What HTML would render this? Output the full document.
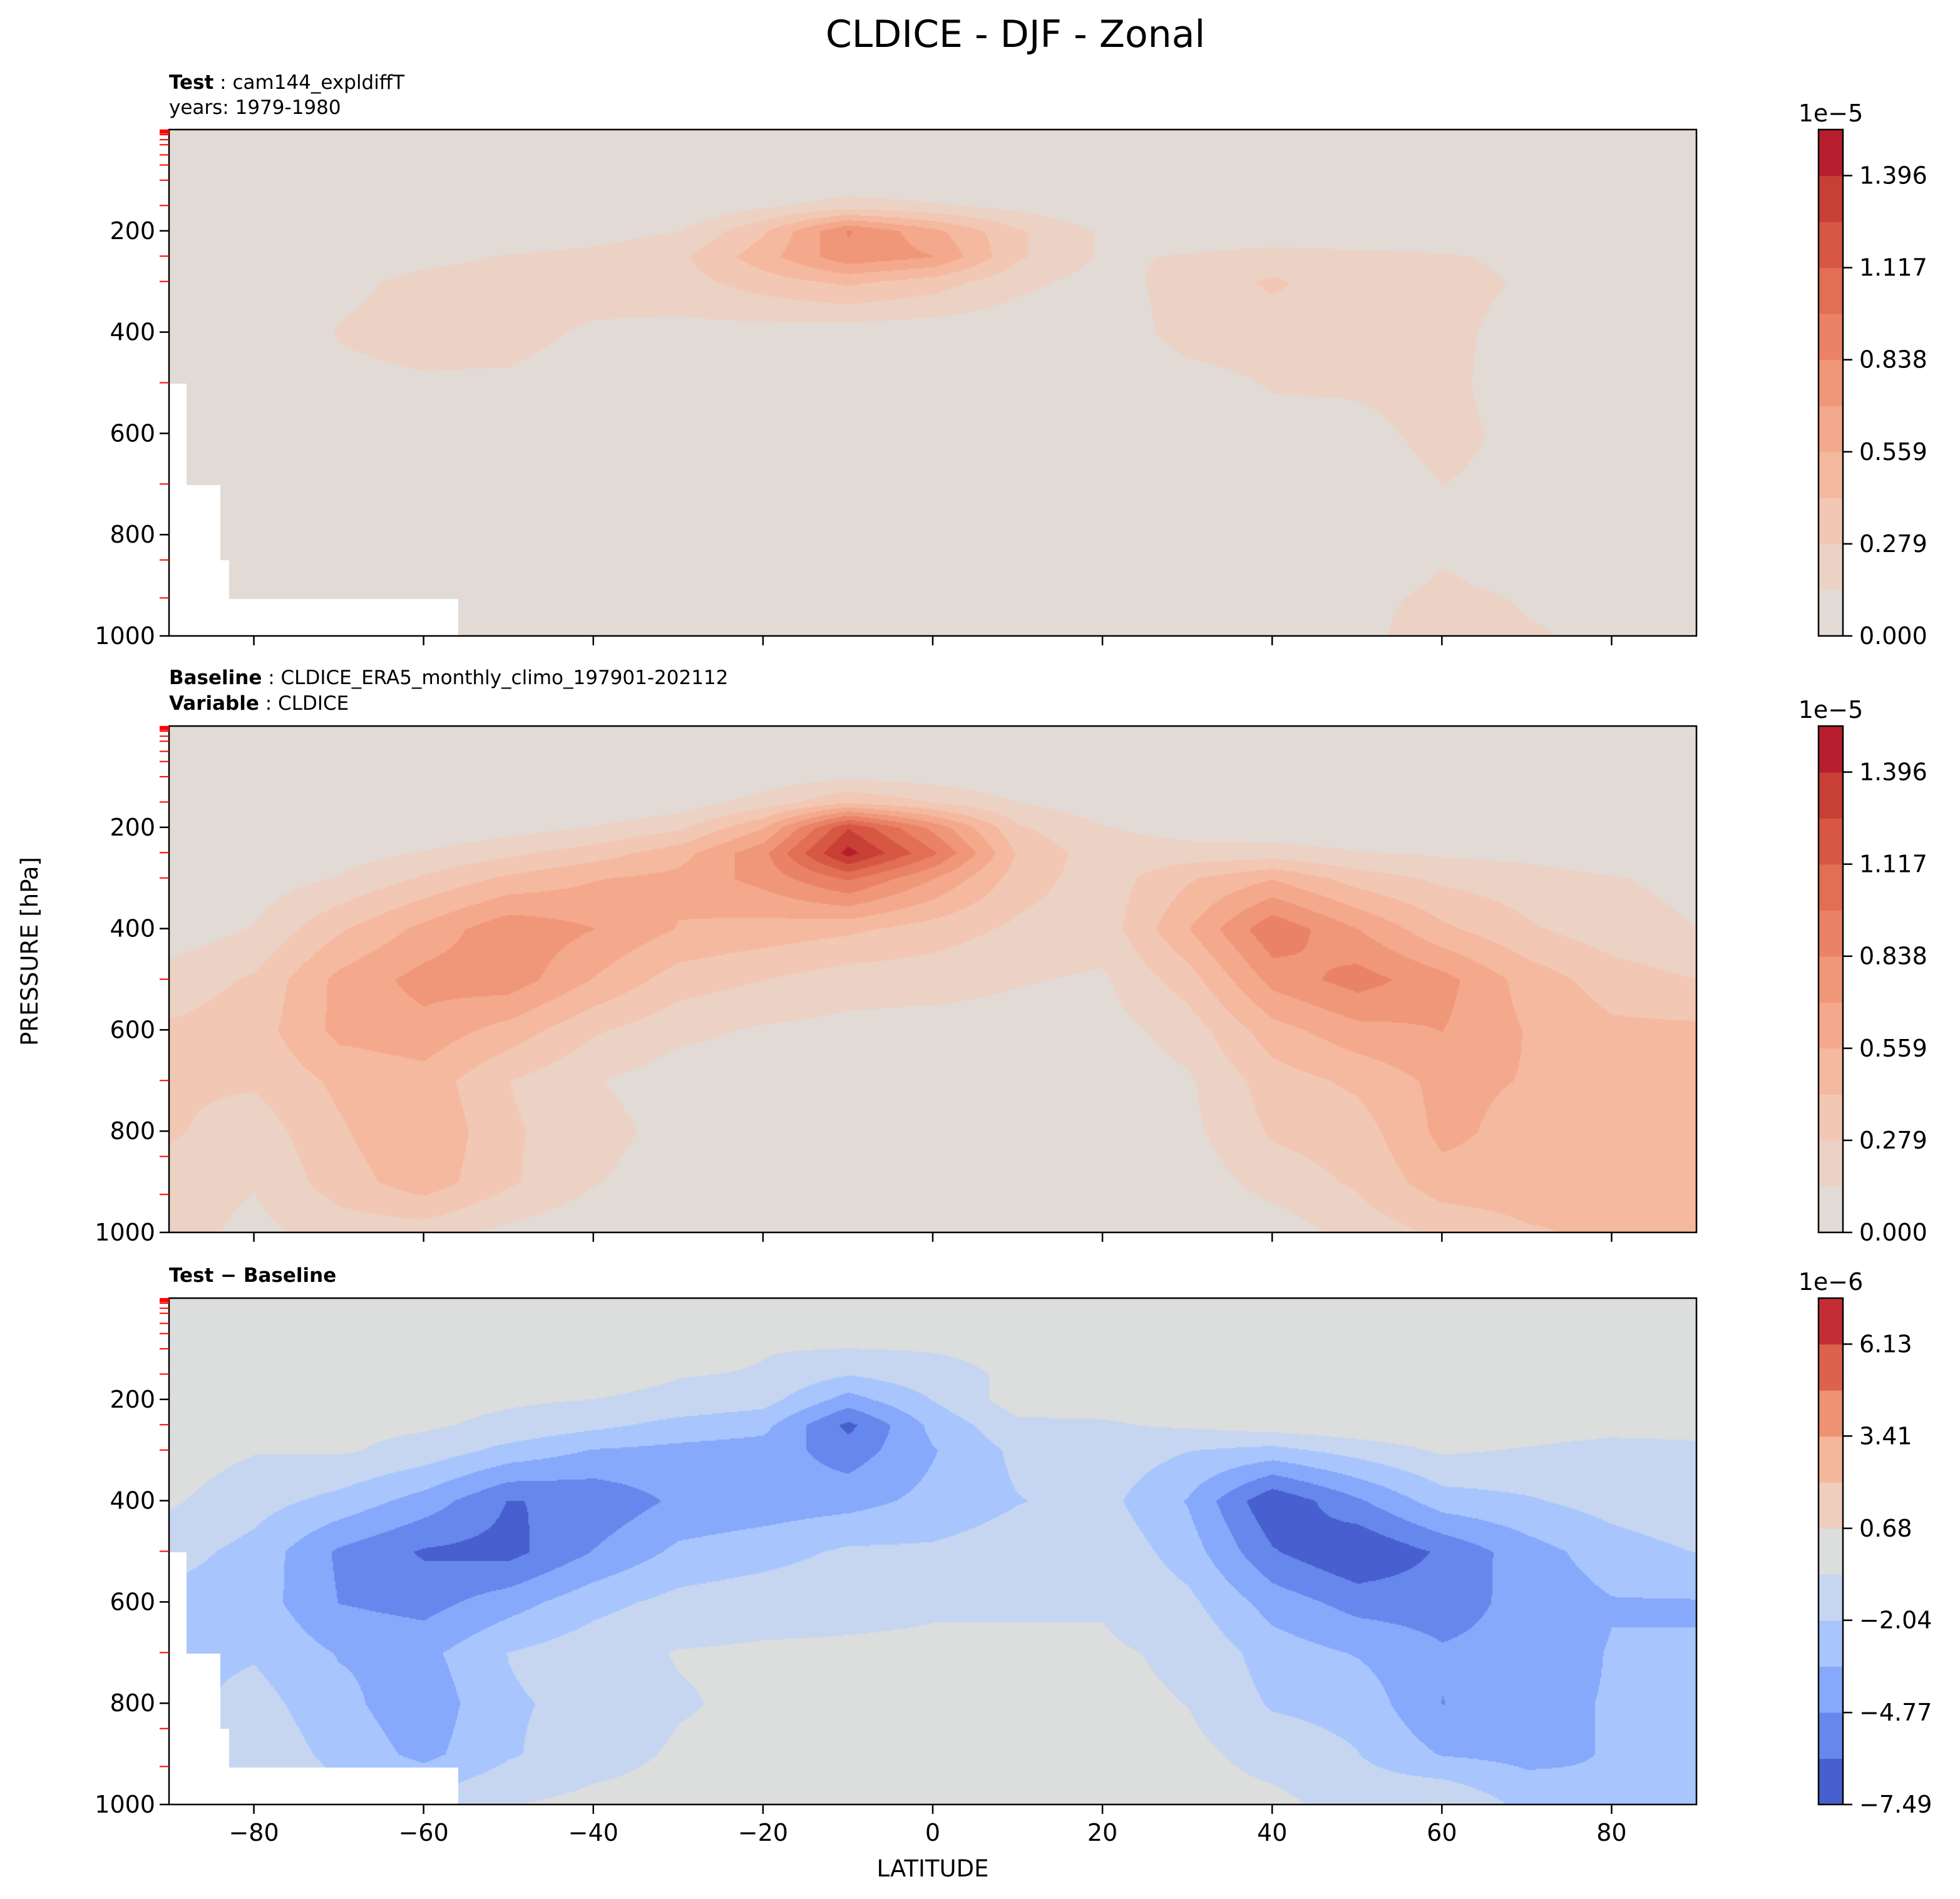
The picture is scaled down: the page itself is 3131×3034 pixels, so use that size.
<!DOCTYPE html>
<html><head><meta charset="utf-8">
<style>
body{margin:0;background:#fff;}
#root{position:relative;width:3131px;height:3034px;background:#fff;font-family:"DejaVu Sans","Liberation Sans",sans-serif;color:#000;overflow:hidden;}
.t{position:absolute;white-space:nowrap;}
canvas{position:absolute;}
svg{position:absolute;left:0;top:0;}
</style></head>
<body>
<div id="root">
<div class="t" style="left:0;width:3244px;text-align:center;top:20px;font-size:60px;line-height:70px;">CLDICE - DJF - Zonal</div>
<div class="t" style="left:270px;top:112px;font-size:31px;line-height:40px;"><b>Test</b> : cam144_expldiffT<br>years: 1979-1980</div>
<div class="t" style="left:270px;top:1063px;font-size:31px;line-height:41px;"><b>Baseline</b> : CLDICE_ERA5_monthly_climo_197901-202112<br><b>Variable</b> : CLDICE</div>
<div class="t" style="left:270px;top:2018px;font-size:31px;line-height:40px;"><b>Test − Baseline</b></div>
<div class="t" style="left:48px;top:1520px;font-size:37px;line-height:40px;transform:translate(-50%,-50%) rotate(-90deg);">PRESSURE [hPa]</div>
<div class="t" style="left:1490px;top:2986px;font-size:37px;line-height:40px;transform:translate(-50%,-50%);">LATITUDE</div>
<canvas id="c0"></canvas>
<canvas id="c1"></canvas>
<canvas id="c2"></canvas>
<svg id="ov" width="3131" height="3034"></svg>
</div>
<script>
const lats=[-90,-80,-70,-60,-50,-40,-30,-20,-10,0,10,20,30,40,50,60,70,80,90];
const levels=[0,100,150,200,250,300,400,500,600,700,800,900,1000];
const baseField=[
[0,0,0,0,0,0,0,0,0,0,0,0,0,0,0,0,0,0,0],
[0,0,0,0,0,0,0,0.06,0.12,0.08,0.03,0,0,0,0,0,0,0,0],
[0,0,0,0,0,0,0.06,0.2,0.4,0.28,0.14,0.05,0,0,0,0,0,0,0],
[0,0,0,0.03,0.08,0.15,0.25,0.55,1.25,0.8,0.3,0.15,0.08,0.06,0.04,0.02,0,0,0],
[0,0.03,0.08,0.15,0.25,0.35,0.5,0.8,1.45,1.0,0.4,0.2,0.2,0.2,0.15,0.12,0.1,0.05,0.02],
[0,0.06,0.15,0.3,0.45,0.55,0.6,0.75,1.0,0.7,0.35,0.2,0.4,0.55,0.35,0.25,0.2,0.15,0.1],
[0.05,0.15,0.4,0.6,0.8,0.7,0.55,0.5,0.45,0.35,0.25,0.2,0.55,0.95,0.7,0.45,0.3,0.2,0.14],
[0.2,0.3,0.6,0.75,0.78,0.55,0.35,0.28,0.2,0.2,0.15,0.12,0.35,0.75,0.9,0.75,0.5,0.35,0.28],
[0.3,0.35,0.6,0.65,0.5,0.3,0.18,0.12,0.1,0.08,0.08,0.08,0.2,0.5,0.65,0.7,0.55,0.45,0.45],
[0.3,0.3,0.45,0.5,0.28,0.15,0.06,0.05,0.05,0.05,0.05,0.05,0.12,0.35,0.45,0.6,0.55,0.45,0.45],
[0.3,0.2,0.4,0.55,0.3,0.2,0.08,0.04,0.04,0.04,0.04,0.04,0.1,0.3,0.35,0.6,0.5,0.45,0.45],
[0.2,0.15,0.35,0.5,0.3,0.15,0.05,0.03,0.03,0.03,0.03,0.03,0.05,0.2,0.3,0.5,0.5,0.45,0.45],
[0.2,0.1,0.2,0.2,0.1,0.03,0.02,0.02,0.02,0.02,0.02,0.02,0.02,0.05,0.2,0.3,0.4,0.45,0.45]];
const testField=[
[0,0,0,0,0,0,0,0,0,0,0,0,0,0,0,0,0,0,0],
[0,0,0,0,0,0,0,0,0.05,0.02,0,0,0,0,0,0,0,0,0],
[0,0,0,0,0,0,0,0.12,0.2,0.16,0.1,0,0,0,0,0,0,0,0],
[0,0,0,0,0.03,0.08,0.14,0.4,0.85,0.6,0.3,0.12,0.05,0.04,0.03,0,0,0,0],
[0,0,0.05,0.1,0.15,0.18,0.25,0.5,0.8,0.7,0.3,0.12,0.15,0.2,0.18,0.16,0.1,0.03,0],
[0,0,0.1,0.18,0.2,0.2,0.22,0.35,0.45,0.35,0.18,0.08,0.2,0.3,0.2,0.2,0.12,0.03,0],
[0,0,0.15,0.2,0.18,0.12,0.1,0.08,0.06,0.05,0.04,0.04,0.2,0.22,0.2,0.18,0.08,0.05,0.05],
[0.05,0.05,0.1,0.12,0.12,0.08,0.04,0.02,0.02,0.02,0.02,0.02,0.08,0.15,0.15,0.16,0.1,0.08,0.08],
[0.05,0.08,0.12,0.12,0.1,0.05,0.02,0,0,0,0,0,0.03,0.1,0.12,0.16,0.12,0.1,0.1],
[0.05,0.08,0.1,0.12,0.08,0.03,0,0,0,0,0,0,0.03,0.08,0.1,0.14,0.12,0.12,0.12],
[0.05,0.05,0.1,0.12,0.08,0.03,0,0,0,0,0,0,0.03,0.08,0.1,0.12,0.12,0.12,0.12],
[0.05,0.05,0.1,0.12,0.08,0.03,0,0,0,0,0,0,0.02,0.08,0.1,0.15,0.12,0.12,0.12],
[0.05,0.03,0.05,0.05,0.03,0,0,0,0,0,0,0,0,0.02,0.08,0.25,0.15,0.12,0.12]];
// below-surface mask steps: [max latitude, pressure below which is masked]
const maskLat=[-88,-84,-83,-56];
const maskP=[500,700,850,925];
const redTicks=["0.000","0.279","0.559","0.838","1.117","1.396"];
const redTickVals=[0,0.2792,0.5584,0.8376,1.1168,1.396];
const diffTicks=["−7.49","−4.77","−2.04","0.68","3.41","6.13"];
const diffTickVals=[-7.49,-4.77,-2.04,0.68,3.41,6.13];
const yTicks=[200,400,600,800,1000];
const yMinor=[1,2,3,5,7,10,20,30,50,70,100,150,250,300,500,700,850,925];
const xTicks=[-80,-60,-40,-20,0,20,40,60,80];

const redColors=["#e2dad5","#ecd2c4","#f2c8b4","#f5b9a0","#f4a98c","#f09679","#ea8266","#e26e53","#d65742","#c73f35","#b81d2d"];
const diffColors=["#485fcf","#6688ec","#87a9fb","#a8c5fd","#c6d6f1","#dcdddd","#efcebd","#f5b69a","#ee9272","#dd624e","#c32e36"];

const L=270,R=2710,TOPS=[207,1160,2074],H=809;
const CBX=2905,CBW=39;
function xs(lat){return L+(lat+90)/180*(R-L);}
function ys(p,top){return top+p/1000*H;}
function interp(field,lat,p){
  let i=Math.min(lats.length-2,Math.max(0,Math.floor((lat-lats[0])/10)));
  let tx=(lat-lats[i])/(lats[i+1]-lats[i]);
  let j=0;while(j<levels.length-2&&p>levels[j+1])j++;
  let ty=(p-levels[j])/(levels[j+1]-levels[j]);
  const a=field[j][i],b=field[j][i+1],c=field[j+1][i],d=field[j+1][i+1];
  return (a*(1-tx)+b*tx)*(1-ty)+(c*(1-tx)+d*tx)*ty;
}
function masked(lat,p){
  for(let k=0;k<maskLat.length;k++){ if(lat<maskLat[k]&&p>maskP[k]) return true; }
  return false;
}
function hex(c){return [parseInt(c.substr(1,2),16),parseInt(c.substr(3,2),16),parseInt(c.substr(5,2),16)];}
const redRGB=redColors.map(hex),diffRGB=diffColors.map(hex);
function draw(idx){
  const cv=document.getElementById('c'+idx);
  const W=R-L;cv.width=W;cv.height=H;cv.style.left=L+'px';cv.style.top=TOPS[idx]+'px';
  const ctx=cv.getContext('2d');const img=ctx.createImageData(W,H);const dt=img.data;
  for(let y=0;y<H;y+=2){const p=y/H*1000;
    for(let x=0;x<W;x+=2){const lat=-90+x/W*180;
      let rgb;
      if(idx!==1&&masked(lat,p)){rgb=[255,255,255];}
      else if(idx===2){const v=(interp(testField,lat,p)-interp(baseField,lat,p))*10;
        let b=Math.floor((v+7.49)/1.362);b=Math.max(0,Math.min(10,b));rgb=diffRGB[b];}
      else{const v=interp(idx===0?testField:baseField,lat,p);
        let b=Math.floor(v/0.1396);b=Math.max(0,Math.min(10,b));rgb=redRGB[b];}
      for(let dy=0;dy<2&&y+dy<H;dy++)for(let dx=0;dx<2&&x+dx<W;dx++){const o=((y+dy)*W+x+dx)*4;dt[o]=rgb[0];dt[o+1]=rgb[1];dt[o+2]=rgb[2];dt[o+3]=255;}
    }}
  ctx.putImageData(img,0,0);
}
[0,1,2].forEach(draw);
const NS='http://www.w3.org/2000/svg';const ov=document.getElementById('ov');
function el(tag,attrs,txt){const e=document.createElementNS(NS,tag);for(const k in attrs)e.setAttribute(k,attrs[k]);if(txt!==undefined)e.textContent=txt;ov.appendChild(e);return e;}
TOPS.forEach((top,pi)=>{
  const fr=el('rect',{x:L,y:top,width:R-L,height:H,fill:'none',stroke:'#000','stroke-width':2.5});
  
  
  yMinor.forEach(p=>{const ln=el('line',{x1:L-15,x2:L,y1:ys(p,top),y2:ys(p,top),stroke:'#ff0000','stroke-width':2});
    
    });
  yTicks.forEach(p=>{const ln=el('line',{x1:L-15,x2:L,y1:ys(p,top),y2:ys(p,top),stroke:'#000','stroke-width':2.5});
    
    
    const tx=el('text',{x:L-22,y:ys(p,top)+13,'text-anchor':'end','font-size':38,'font-family':'DejaVu Sans, Liberation Sans, sans-serif'},String(p));
    
    });
  xTicks.forEach(v=>{const ln=el('line',{x1:xs(v),x2:xs(v),y1:top+H,y2:top+H+15,stroke:'#000','stroke-width':2.5});
    
    
    if(pi===2){const tx=el('text',{x:xs(v),y:top+H+58,'text-anchor':'middle','font-size':38,'font-family':'DejaVu Sans, Liberation Sans, sans-serif'},v<0?'−'+Math.abs(v):String(v));
      
      }});
  const cols=pi===2?diffColors:redColors;const n=cols.length;
  for(let k=0;k<n;k++){const r=el('rect',{x:CBX,y:top+H-(k+1)*H/n,width:CBW,height:H/n+0.6,fill:cols[k]});
    
    }
  const cf=el('rect',{x:CBX,y:top,width:CBW,height:H,fill:'none',stroke:'#000','stroke-width':2.5});
  
  
  const tv=pi===2?diffTickVals:redTickVals,tl=pi===2?diffTicks:redTicks;
  const vmin=pi===2?-7.49:0,vmax=pi===2?7.49:1.5356;
  tv.forEach((v,k)=>{const y=top+H-(v-vmin)/(vmax-vmin)*H;
    const ln=el('line',{x1:CBX+CBW,x2:CBX+CBW+15,y1:y,y2:y,stroke:'#000','stroke-width':2.5});
    
    
    const tx=el('text',{x:CBX+CBW+26,y:y+13,'font-size':38,'font-family':'DejaVu Sans, Liberation Sans, sans-serif'},tl[k]);
    
    });
  const ex=el('text',{x:CBX+CBW/2,y:top-13,'text-anchor':'middle','font-size':38,'font-family':'DejaVu Sans, Liberation Sans, sans-serif'},pi===2?'1e−6':'1e−5');
  
  
});
</script>
</body></html>
